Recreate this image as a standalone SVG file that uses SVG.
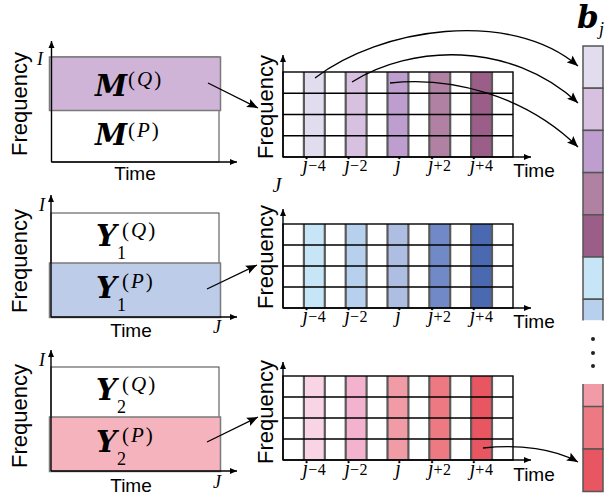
<svg xmlns="http://www.w3.org/2000/svg" width="608" height="497" viewBox="0 0 608 497">
<style>
.lbl{font-family:"Liberation Sans",Arial,sans-serif;fill:#000}
.freq{font-size:22px}
.time{font-size:19px}
.math{font-family:"DejaVu Serif","Liberation Serif",serif;font-weight:bold;font-style:italic;font-size:29px}
.big{font-size:31px}
.scr{font-family:"Liberation Serif",serif;font-size:18px}
.sup{font-family:"Liberation Serif",serif;font-size:21px;letter-spacing:2px}
.it{font-style:italic}
.jl{font-family:"Liberation Serif",serif;font-style:italic;font-size:20px}
.jn{font-style:normal;font-size:16px;letter-spacing:0.5px}
.box{fill:#fff;stroke:#444;stroke-width:1}
.ov{stroke:#7a7a7a;stroke-width:1.5}
.axis{fill:none;stroke:#000;stroke-width:1.4}
.hl{stroke:#000;stroke-width:1.4}
.vl{stroke:#5a5a5a;stroke-width:2.2}
.outer{fill:none;stroke:#000;stroke-width:1.4}
.conn{fill:none;stroke:#000;stroke-width:1.3}
.cell{stroke:#555;stroke-width:1.5}
</style>
<defs>
<marker id="ax" markerUnits="userSpaceOnUse" markerWidth="8" markerHeight="8" refX="7" refY="4" orient="auto"><path d="M0,1 L7,4 L0,7 z" fill="#000"/></marker>
<marker id="ar" markerUnits="userSpaceOnUse" markerWidth="12" markerHeight="10" refX="11" refY="5" orient="auto"><path d="M0,0.5 L11,5 L0,9.5 L2,5 z" fill="#000"/></marker>
</defs>

<!-- Left panel 1 -->
<g id="panel-M">
<rect class="box" x="51.5" y="57" width="167.5" height="105"/>
<rect class="ov" x="49.5" y="57" width="171" height="53.5" fill="#cfb4d8"/>
<path class="axis" d="M51.5,162 L51.5,41" marker-end="url(#ax)"/>
<path class="axis" d="M51.5,162 L237,162" marker-end="url(#ax)"/>
<text class="lbl freq" transform="translate(27,104) rotate(-90)" text-anchor="middle">Frequency</text>
<text class="lbl time" x="135" y="180" text-anchor="middle">Time</text>
<text class="scr it" x="40" y="65" text-anchor="middle">I</text>
<text class="math" x="95" y="96">M</text>
<text class="sup" x="128" y="86">(<tspan class="it">Q</tspan>)</text>
<text class="math" x="95" y="145">M</text>
<text class="sup" x="128" y="137">(<tspan class="it">P</tspan>)</text>
</g>

<!-- Left panel 2 -->
<g id="panel-Y1">
<rect class="box" x="51" y="213" width="168" height="104"/>
<rect class="ov" x="49.5" y="263" width="171" height="54.5" fill="#bdcce8"/>
<path class="axis" d="M51,317 L51,195" marker-end="url(#ax)"/>
<path class="axis" d="M51,317 L237,317" marker-end="url(#ax)"/>
<text class="lbl freq" transform="translate(27,261) rotate(-90)" text-anchor="middle">Frequency</text>
<text class="lbl time" x="131" y="337" text-anchor="middle">Time</text>
<text class="scr it" x="42" y="211" text-anchor="middle">I</text>
<text class="scr it" x="217" y="333" text-anchor="middle">J</text>
<text class="math" x="96" y="246">Y</text>
<text class="scr" x="117" y="259">1</text>
<text class="sup" x="122" y="237">(<tspan class="it">Q</tspan>)</text>
<text class="math" x="96" y="298">Y</text>
<text class="scr" x="117" y="311">1</text>
<text class="sup" x="122" y="288">(<tspan class="it">P</tspan>)</text>
</g>

<!-- Left panel 3 -->
<g id="panel-Y2">
<rect class="box" x="51" y="367" width="168" height="104"/>
<rect class="ov" x="49.5" y="417" width="171" height="54.5" fill="#f4b3bd"/>
<path class="axis" d="M51,471 L51,350" marker-end="url(#ax)"/>
<path class="axis" d="M51,471 L237,471" marker-end="url(#ax)"/>
<text class="lbl freq" transform="translate(27,416) rotate(-90)" text-anchor="middle">Frequency</text>
<text class="lbl time" x="131" y="492" text-anchor="middle">Time</text>
<text class="scr it" x="42" y="366" text-anchor="middle">I</text>
<text class="scr it" x="217" y="488" text-anchor="middle">J</text>
<text class="math" x="96" y="400">Y</text>
<text class="scr" x="117" y="413">2</text>
<text class="sup" x="122" y="391">(<tspan class="it">Q</tspan>)</text>
<text class="math" x="96" y="452">Y</text>
<text class="scr" x="117" y="465">2</text>
<text class="sup" x="122" y="442">(<tspan class="it">P</tspan>)</text>
</g>

<!-- Grid 1 -->
<g id="grid-M">
<rect x="303.9" y="72" width="20.9" height="85" fill="#e1ddef"/>
<rect x="345.7" y="72" width="20.9" height="85" fill="#d8c0e0"/>
<rect x="387.5" y="72" width="20.9" height="85" fill="#be9ecf"/>
<rect x="429.3" y="72" width="20.9" height="85" fill="#b081a2"/>
<rect x="471.1" y="72" width="20.9" height="85" fill="#9a5e88"/>
<path class="vl" d="M303.9,72V157M324.8,72V157M345.7,72V157M366.6,72V157M387.5,72V157M408.4,72V157M429.3,72V157M450.2,72V157M471.1,72V157M492,72V157"/>
<path class="hl" d="M283,93.25H513M283,114.5H513M283,135.75H513"/>
<rect class="outer" x="283" y="72" width="230" height="85"/>
<path class="axis" d="M283,157 L283,55" marker-end="url(#ax)"/>
<path class="axis" d="M283,157 L531,157" marker-end="url(#ax)"/>
<text class="lbl freq" transform="translate(273,107) rotate(-90)" text-anchor="middle">Frequency</text>
<text class="lbl time" x="534" y="177" text-anchor="middle">Time</text>
<text class="jl" x="277" y="192" text-anchor="middle">J</text>
<text class="jl" x="314.4" y="171" text-anchor="middle">j<tspan class="jn">−4</tspan></text>
<text class="jl" x="356.2" y="171" text-anchor="middle">j<tspan class="jn">−2</tspan></text>
<text class="jl" x="398" y="171" text-anchor="middle">j</text>
<text class="jl" x="439.8" y="171" text-anchor="middle">j<tspan class="jn">+2</tspan></text>
<text class="jl" x="481.6" y="171" text-anchor="middle">j<tspan class="jn">+4</tspan></text>
</g>

<!-- Grid 2 -->
<g id="grid-Y1">
<rect x="303.9" y="224" width="20.9" height="84" fill="#c6e5f7"/>
<rect x="345.7" y="224" width="20.9" height="84" fill="#b6d0ee"/>
<rect x="387.5" y="224" width="20.9" height="84" fill="#aebee2"/>
<rect x="429.3" y="224" width="20.9" height="84" fill="#7189c6"/>
<rect x="471.1" y="224" width="20.9" height="84" fill="#4b69b1"/>
<path class="vl" d="M303.9,224V308M324.8,224V308M345.7,224V308M366.6,224V308M387.5,224V308M408.4,224V308M429.3,224V308M450.2,224V308M471.1,224V308M492,224V308"/>
<path class="hl" d="M283,245H513M283,266H513M283,287H513"/>
<rect class="outer" x="283" y="224" width="230" height="84"/>
<path class="axis" d="M283,308 L283,209" marker-end="url(#ax)"/>
<path class="axis" d="M283,308 L531,308" marker-end="url(#ax)"/>
<text class="lbl freq" transform="translate(273,257) rotate(-90)" text-anchor="middle">Frequency</text>
<text class="lbl time" x="534" y="328" text-anchor="middle">Time</text>
<text class="jl" x="314.4" y="322" text-anchor="middle">j<tspan class="jn">−4</tspan></text>
<text class="jl" x="356.2" y="322" text-anchor="middle">j<tspan class="jn">−2</tspan></text>
<text class="jl" x="398" y="322" text-anchor="middle">j</text>
<text class="jl" x="439.8" y="322" text-anchor="middle">j<tspan class="jn">+2</tspan></text>
<text class="jl" x="481.6" y="322" text-anchor="middle">j<tspan class="jn">+4</tspan></text>
</g>

<!-- Grid 3 -->
<g id="grid-Y2">
<rect x="303.9" y="376" width="20.9" height="84" fill="#f8d4e4"/>
<rect x="345.7" y="376" width="20.9" height="84" fill="#f3b2cd"/>
<rect x="387.5" y="376" width="20.9" height="84" fill="#f19ba7"/>
<rect x="429.3" y="376" width="20.9" height="84" fill="#ed7a83"/>
<rect x="471.1" y="376" width="20.9" height="84" fill="#e85662"/>
<path class="vl" d="M303.9,376V460M324.8,376V460M345.7,376V460M366.6,376V460M387.5,376V460M408.4,376V460M429.3,376V460M450.2,376V460M471.1,376V460M492,376V460"/>
<path class="hl" d="M283,397H513M283,418H513M283,439H513"/>
<rect class="outer" x="283" y="376" width="230" height="84"/>
<path class="axis" d="M283,460 L283,362" marker-end="url(#ax)"/>
<path class="axis" d="M283,460 L531,460" marker-end="url(#ax)"/>
<text class="lbl freq" transform="translate(273,412) rotate(-90)" text-anchor="middle">Frequency</text>
<text class="lbl time" x="534" y="481" text-anchor="middle">Time</text>
<text class="jl" x="314.4" y="475" text-anchor="middle">j<tspan class="jn">−4</tspan></text>
<text class="jl" x="356.2" y="475" text-anchor="middle">j<tspan class="jn">−2</tspan></text>
<text class="jl" x="398" y="475" text-anchor="middle">j</text>
<text class="jl" x="439.8" y="475" text-anchor="middle">j<tspan class="jn">+2</tspan></text>
<text class="jl" x="481.6" y="475" text-anchor="middle">j<tspan class="jn">+4</tspan></text>
</g>

<!-- b_j vector -->
<g id="vector-b">
<text class="math big" x="577" y="28">b</text>
<text class="scr it" x="599" y="35">j</text>
<rect class="cell" x="583" y="46" width="20" height="42.2" fill="#e1ddef"/>
<rect class="cell" x="583" y="88.2" width="20" height="42.2" fill="#d8c0e0"/>
<rect class="cell" x="583" y="130.4" width="20" height="42.2" fill="#be9ecf"/>
<rect class="cell" x="583" y="172.6" width="20" height="42.2" fill="#b081a2"/>
<rect class="cell" x="583" y="214.8" width="20" height="42.2" fill="#9a5e88"/>
<rect class="cell" x="583" y="257" width="20" height="42.2" fill="#c6e5f7"/>
<rect x="583" y="299.2" width="20" height="21" fill="#b6d0ee"/>
<path class="cell" d="M583,299.2V320.5M603,299.2V320.5M583,299.2H603" fill="none"/>
<circle cx="593" cy="339" r="2" fill="#222"/>
<circle cx="593" cy="353" r="2" fill="#222"/>
<circle cx="593" cy="366" r="2" fill="#222"/>
<rect x="583" y="384" width="20" height="22.5" fill="#f19ba7"/>
<path class="cell" d="M583,384V406.5M603,384V406.5" fill="none"/>
<rect class="cell" x="583" y="406.5" width="20" height="42.5" fill="#ed7a83"/>
<rect class="cell" x="583" y="449" width="20" height="42.5" fill="#e85662"/>
</g>

<!-- Connectors -->
<g id="connectors">
<path class="conn" d="M208,83 L258,108" marker-end="url(#ar)"/>
<path class="conn" d="M207,289 L257,265" marker-end="url(#ar)"/>
<path class="conn" d="M207,442 L258,417" marker-end="url(#ar)"/>
<path class="conn" d="M315,78 C380,28 510,8 578,66" marker-end="url(#ar)"/>
<path class="conn" d="M352,82 C410,45 510,40 578,103" marker-end="url(#ar)"/>
<path class="conn" d="M390,83 C450,76 525,95 578,147" marker-end="url(#ar)"/>
<path class="conn" d="M483,448 C520,444 555,449 578,462" marker-end="url(#ar)"/>
</g>
</svg>
